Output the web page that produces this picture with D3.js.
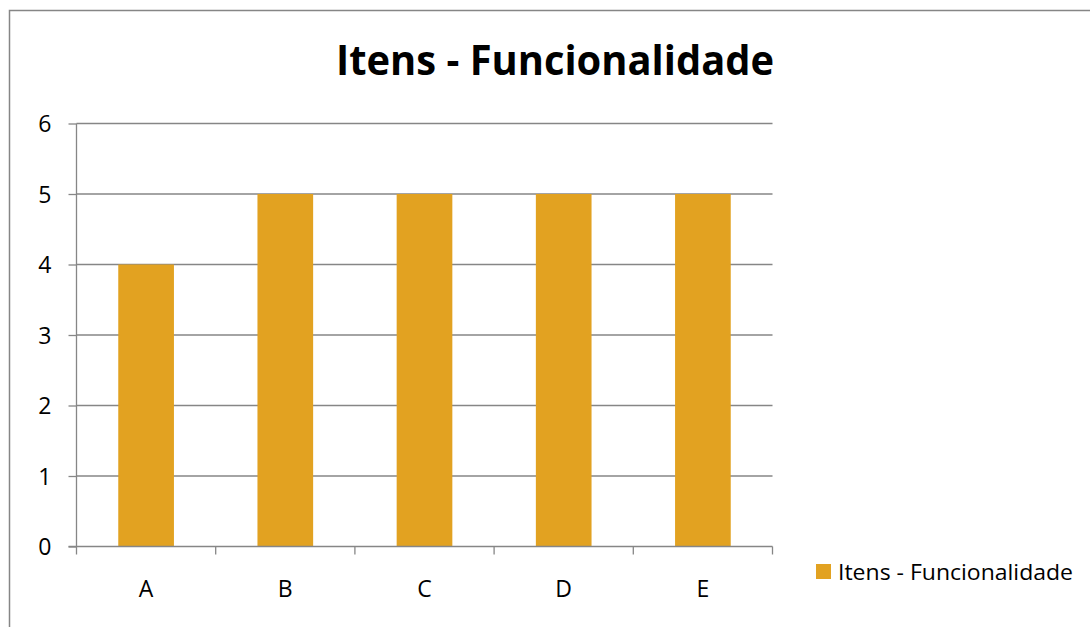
<!DOCTYPE html>
<html><head><meta charset="utf-8">
<script src="https://cdn.jsdelivr.net/npm/d3@7"></script>
<style>body{margin:0;background:#fff}svg{display:block}text{font-family:"Open Sans",sans-serif}</style>
</head><body>
<svg id="c" width="1090" height="627"></svg>
<script>
const categories = ["A","B","C","D","E"];
const values = [4,5,5,5,5];
const yTicks = [0,1,2,3,4,5,6];
const title = "Itens - Funcionalidade";
const seriesName = "Itens - Funcionalidade";

const svg = d3.select("#c");
const gray = "#868686";
const barColor = "#E2A221";
const L = 76.5, R = 772.5, T = 123.5, B = 546.5;

svg.append("rect").attr("x",9.5).attr("y",10.5).attr("width",1100).attr("height",700)
  .attr("fill","#fff").attr("stroke",gray).attr("stroke-width",1.5);

const x = d3.scaleBand().domain(categories).range([L,R]).paddingInner(0.6).paddingOuter(0.3);
const y = d3.scaleLinear().domain([0,6]).range([B,T]);

// gridlines
svg.append("g").selectAll("line").data(yTicks.filter(d=>d>0)).join("line")
  .attr("x1",L).attr("x2",R).attr("y1",d=>y(d)).attr("y2",d=>y(d))
  .attr("stroke",gray).attr("stroke-width",1.3);

// bars
svg.append("g").selectAll("rect").data(categories).join("rect")
  .attr("x",d=>x(d)).attr("width",x.bandwidth())
  .attr("y",(d,i)=>y(values[i])).attr("height",(d,i)=>B-y(values[i]))
  .attr("fill",barColor);

// y axis
const ya = svg.append("g").attr("transform",`translate(${L},0)`)
  .call(d3.axisLeft(y).tickValues(yTicks).tickSize(8).tickPadding(17).tickFormat(d3.format("d")));
ya.attr("font-size",null).attr("font-family",null);
ya.select(".domain").attr("stroke",gray).attr("stroke-width",1.3).attr("d",`M0,${T}V${B}`);
ya.selectAll(".tick line").attr("stroke",gray).attr("stroke-width",1.3);
ya.selectAll(".tick text").style("font-size","23px").attr("fill","#000").attr("dy","0.36em");

// x axis
const step = x.step();
const bounds = d3.range(categories.length+1).map(i=>L+i*step);
svg.append("line").attr("x1",L-8).attr("x2",R).attr("y1",B).attr("y2",B).attr("stroke",gray).attr("stroke-width",1.3);
svg.append("g").selectAll("line").data(bounds).join("line")
  .attr("x1",d=>d).attr("x2",d=>d).attr("y1",B).attr("y2",B+8).attr("stroke",gray).attr("stroke-width",1.3);
svg.append("g").selectAll("text").data(categories).join("text")
  .attr("x",d=>x(d)+x.bandwidth()/2).attr("y",597).attr("text-anchor","middle")
  .style("font-size","23px").attr("fill","#000").text(d=>d);

// title
svg.append("text").attr("x",555).attr("y",75).attr("text-anchor","middle")
  .style("font-size","42px").attr("font-weight","bold").attr("fill","#000")
  .attr("textLength",438).attr("lengthAdjust","spacingAndGlyphs").text(title);

// legend
svg.append("rect").attr("x",816).attr("y",564).attr("width",15).attr("height",15).attr("fill",barColor);
svg.append("text").attr("x",838).attr("y",580).style("font-size","21px").attr("fill","#000")
  .attr("textLength",235).attr("lengthAdjust","spacingAndGlyphs").text(seriesName);
</script>
</body></html>
